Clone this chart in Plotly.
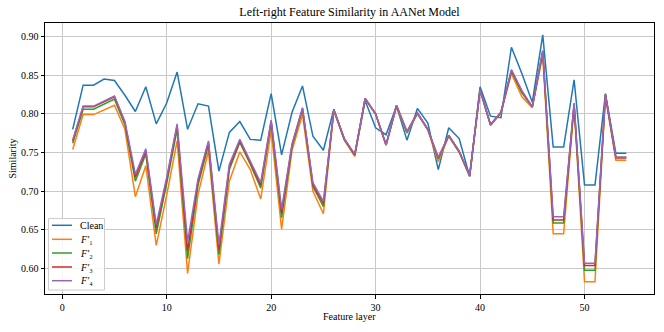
import plotly.graph_objects as go

layers = list(range(1, 55))

clean = [0.780,0.837,0.837,0.845,0.843,0.824,0.803,0.835,0.787,0.814,
         0.854,0.780,0.813,0.810,0.726,0.776,0.790,0.767,0.766,0.826,
         0.747,0.802,0.836,0.771,0.753,0.806,0.767,0.746,0.817,0.782,
         0.773,0.810,0.766,0.807,0.788,0.728,0.782,0.768,0.719,0.835,
         0.797,0.795,0.886,0.852,0.815,0.902,0.757,0.757,0.844,0.708,
         0.708,0.826,0.749,0.749]

f1 = [0.754,0.799,0.799,0.805,0.811,0.780,0.693,0.733,0.630,0.695,
      0.765,0.594,0.696,0.752,0.606,0.713,0.751,0.728,0.690,0.778,
      0.651,0.753,0.799,0.700,0.671,0.804,0.766,0.745,0.819,0.799,
      0.759,0.809,0.775,0.800,0.779,0.738,0.771,0.750,0.719,0.830,
      0.785,0.801,0.852,0.822,0.808,0.876,0.645,0.645,0.810,0.583,
      0.583,0.822,0.740,0.740]

f2 = [0.762,0.806,0.806,0.813,0.819,0.786,0.713,0.748,0.645,0.710,
      0.780,0.613,0.708,0.760,0.618,0.728,0.763,0.735,0.704,0.789,
      0.666,0.758,0.806,0.706,0.680,0.805,0.767,0.747,0.820,0.800,
      0.760,0.810,0.776,0.801,0.780,0.742,0.772,0.751,0.720,0.831,
      0.786,0.802,0.855,0.827,0.809,0.880,0.659,0.659,0.812,0.598,
      0.598,0.824,0.744,0.744]

f3 = [0.765,0.809,0.809,0.816,0.822,0.789,0.718,0.752,0.652,0.715,
      0.785,0.623,0.713,0.763,0.625,0.732,0.765,0.737,0.708,0.791,
      0.672,0.760,0.807,0.708,0.684,0.805,0.768,0.747,0.820,0.800,
      0.760,0.811,0.777,0.801,0.780,0.743,0.772,0.752,0.720,0.831,
      0.786,0.802,0.856,0.829,0.809,0.881,0.663,0.663,0.813,0.604,
      0.604,0.825,0.743,0.743]

f4 = [0.766,0.810,0.810,0.817,0.823,0.790,0.722,0.755,0.657,0.718,
      0.787,0.635,0.716,0.765,0.631,0.735,0.767,0.739,0.711,0.792,
      0.677,0.761,0.808,0.711,0.687,0.805,0.768,0.748,0.820,0.800,
      0.760,0.811,0.777,0.801,0.780,0.744,0.772,0.752,0.720,0.831,
      0.786,0.802,0.857,0.830,0.809,0.882,0.667,0.667,0.814,0.607,
      0.607,0.825,0.744,0.744]

x_ticks = [0, 10, 20, 30, 40, 50]
y_ticks = [0.60, 0.65, 0.70, 0.75, 0.80, 0.85, 0.90]

series_names = ["Clean", "<i>F′</i>₁", "<i>F′</i>₂", "<i>F′</i>₃", "<i>F′</i>₄"]
series_values = [clean, f1, f2, f3, f4]
series_colors = ["#1f77b4", "#ff7f0e", "#2ca02c", "#d62728", "#9467bd"]

W, H = 664, 332
ML, MR, MT, MB = 45, 10, 23, 38
PW, PH = W - ML - MR, H - MT - MB


def px(xpix):
    return (xpix - ML) / PW


def py(ypix):
    return (H - MB - ypix) / PH


fig = go.Figure()
for name, vals, color in zip(series_names, series_values, series_colors):
    fig.add_trace(go.Scatter(x=layers, y=vals, mode="lines", name=name,
                             line=dict(color=color, width=1.5)))

font_family = "Liberation Serif, Times New Roman, serif"
axis_common = dict(
    showline=True, linecolor="black", linewidth=1, mirror=True,
    ticks="outside", ticklen=3.5, tickcolor="black", tickwidth=0.8,
    showgrid=True, gridcolor="#c8c8c8", gridwidth=0.8, zeroline=False,
    tickfont=dict(family=font_family, size=10, color="black"),
    automargin=False,
)

# Legend box (compact, matplotlib-like)
shapes = [dict(type="rect", xref="paper", yref="paper",
               x0=px(48.5), x1=px(104.5), y0=py(290), y1=py(218.5),
               line=dict(color="#cccccc", width=1),
               fillcolor="rgba(255,255,255,0.85)", layer="above")]
annotations = []
row_y = [225.3, 239.3, 253.0, 267.0, 280.7]
for name, color, ry in zip(series_names, series_colors, row_y):
    shapes.append(dict(type="line", xref="paper", yref="paper",
                       x0=px(52), x1=px(72), y0=py(ry), y1=py(ry),
                       line=dict(color=color, width=1.5), layer="above"))
    annotations.append(dict(xref="paper", yref="paper", x=px(78), y=py(ry),
                            text=name, showarrow=False, xanchor="left",
                            yanchor="middle",
                            font=dict(family=font_family, size=10, color="black")))

annotations.append(dict(xref="paper", yref="paper", x=0.5, y=py(316),
                        text="Feature layer", showarrow=False,
                        xanchor="center", yanchor="middle",
                        font=dict(family=font_family, size=10, color="black")))
annotations.append(dict(xref="paper", yref="paper", x=px(12), y=0.5,
                        text="Similarity", showarrow=False, textangle=-90,
                        xanchor="center", yanchor="middle",
                        font=dict(family=font_family, size=10, color="black")))

fig.update_layout(
    width=W, height=H,
    margin=dict(l=ML, r=MR, t=MT, b=MB),
    paper_bgcolor="white", plot_bgcolor="white",
    font=dict(family=font_family, color="black", size=10),
    title=dict(text="Left-right Feature Similarity in AANet Model",
               x=0.5, xref="paper", xanchor="center", y=1 - 12 / H, yanchor="middle",
               font=dict(family=font_family, size=12, color="black")),
    xaxis=dict(range=[-1.65, 56.65], tickvals=x_ticks, **axis_common),
    yaxis=dict(range=[0.5673, 0.9173], tickvals=y_ticks, tickformat=".2f",
               **axis_common),
    showlegend=False,
    shapes=shapes,
    annotations=annotations,
)

fig.write_html("out.html", config={"displayModeBar": False},
               post_script="document.body.style.margin='0';")
